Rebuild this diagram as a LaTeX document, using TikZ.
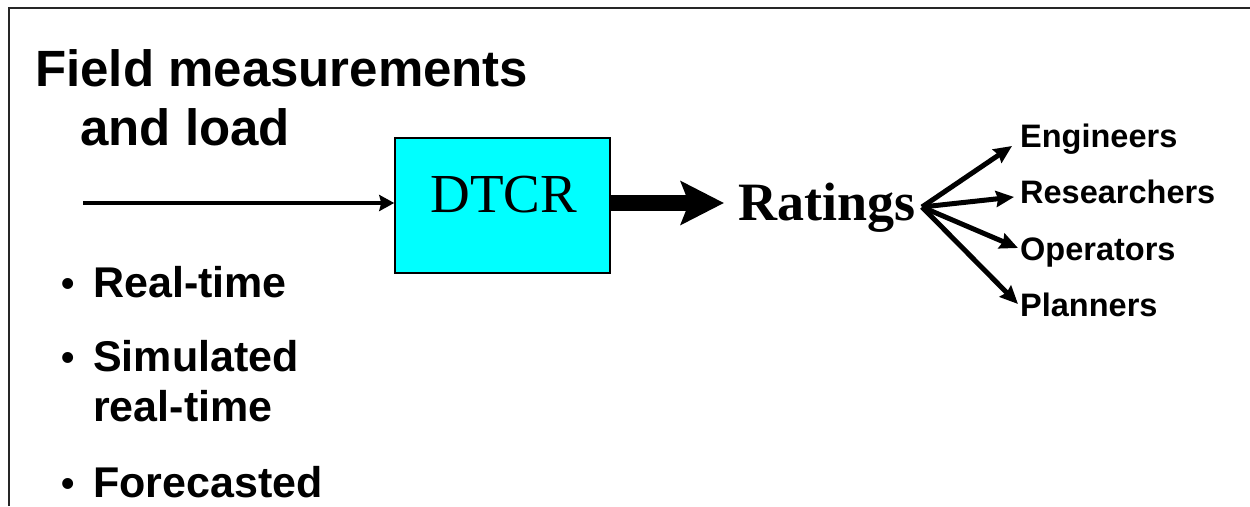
\documentclass[tikz,border=0pt]{standalone}
\usepackage{fontspec}
\setmainfont{Liberation Serif}
\setsansfont{Liberation Sans}
\usetikzlibrary{arrows.meta}
\definecolor{boxcyan}{RGB}{0,255,255}
\newcommand{\bul}{\llap{\fontsize{38}{38}\selectfont\raisebox{1pt}{•}\hspace{18pt}}}
\tikzset{
  sans/.style={font=\sffamily\bfseries\fontsize{#1}{#1}\selectfont, inner sep=0pt, anchor=base west},
  thinarrow/.style={line width=4.5pt, -{Stealth[length=15pt,width=16pt,inset=2pt]}},
  fanarrow/.style={line width=5pt, -{Stealth[length=18pt,width=16pt,inset=2pt]}},
  bigarrow/.style={line width=16pt, -{Stealth[length=43pt,width=43pt,inset=8pt]}},
}
\begin{document}
\begin{tikzpicture}[x=1pt,y=1pt]
\useasboundingbox (0,0) rectangle (1250,-506);
% frame
\draw[line width=2.5pt, black!85] (9,-506) -- (9,-8) -- (1250,-8);
% title
\node[sans=51] (t1) at (35,-86) {Field measurements};
\node[sans=51] (t2) at (80,-145) {and load};
% DTCR box
\node[draw=black, line width=1.5pt, fill=boxcyan, minimum width=215pt, minimum height=135pt, inner sep=0pt] (dtcr) at (502.5,-205.5) {};
\node[font=\fontsize{55}{55}\selectfont, inner sep=0pt, anchor=base] (dtcrlab) at (504,-212) {DTCR};
% input arrow
\coordinate (in) at (83,-203);
\draw[thinarrow] (in) -- (in -| dtcr.west);
% big arrow
\coordinate (bigend) at (724,-203);
\draw[bigarrow] (dtcr.east |- bigend) -- (bigend);
% Ratings
\node[font=\bfseries\fontsize{54}{54}\selectfont, inner sep=0pt, anchor=base west] (rat) at (738,-220) {Ratings};
\coordinate (fan) at (922,-207);
% audience
\node[sans=32.5] (eng) at (1020,-147) {Engineers};
\node[sans=32.5] (res) at (1020,-203) {Researchers};
\node[sans=32.5] (ope) at (1020,-260) {Operators};
\node[sans=32.5] (pla) at (1020,-316) {Planners};
\draw[fanarrow] (fan) -- ([xshift=-8pt,yshift=1pt]eng.base west);
\draw[fanarrow] (fan) -- ([xshift=-6pt,yshift=6pt]res.base west);
\draw[fanarrow] (fan) -- ([xshift=-2pt,yshift=12pt]ope.base west);
\draw[fanarrow] (fan) -- ([xshift=-2pt,yshift=12pt]pla.base west);
% bullets
\node[sans=43] (b1) at (93,-297) {\bul Real-time};
\node[sans=43] (b2) at (93,-371) {\bul Simulated};
\node[sans=43] (b2b) at (93,-421) {real-time};
\node[sans=43] (b3) at (93,-497) {\bul Forecasted};
\end{tikzpicture}
\end{document}
